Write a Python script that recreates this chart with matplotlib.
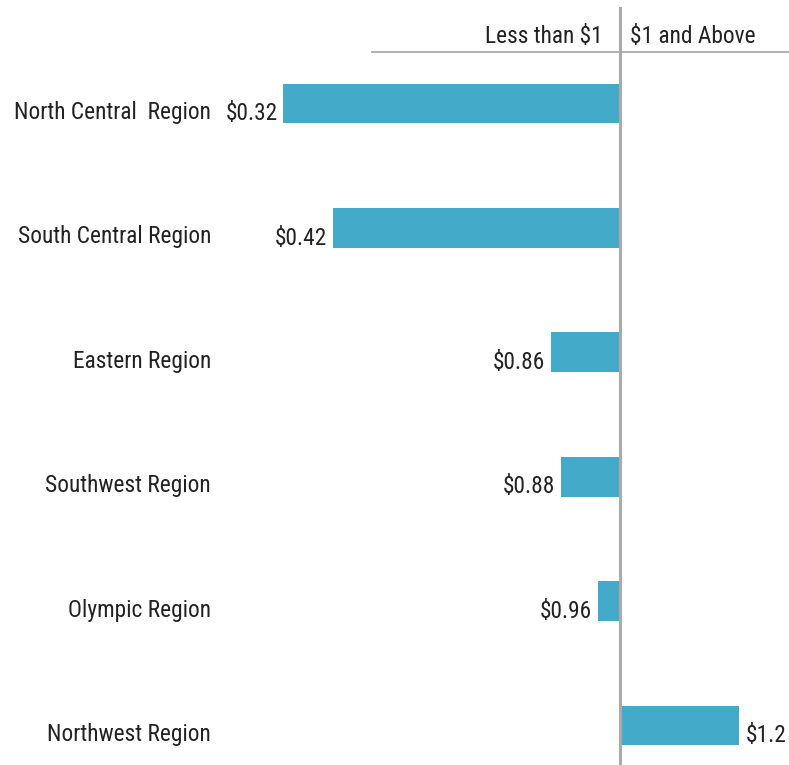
import matplotlib.pyplot as plt

regions = ["North Central  Region", "South Central Region", "Eastern Region",
           "Southwest Region", "Olympic Region", "Northwest Region"]
values = [0.32, 0.42, 0.86, 0.88, 0.955, 1.24]
labels = ["$0.32", "$0.42", "$0.86", "$0.88", "$0.96", "$1.2"]
baseline = 1.0

plt.rcParams['font.family'] = ['Roboto Condensed', 'Liberation Sans', 'DejaVu Sans']
text_color = '#222222'
bar_color = '#43abc9'
line_color = '#aaaaaa'
fs = 16.8

fig = plt.figure(figsize=(7.89, 7.65), dpi=100)
ax = fig.add_axes([220 / 789, 0, 569 / 789, 1])

pos = list(range(len(regions)))
widths = [v - baseline for v in values]
ax.barh(pos, widths, left=baseline, height=0.32, color=bar_color)

# category names, left of the plot area
for p, name in zip(pos, regions):
    ax.text(0.174, p + 0.125, name, ha='right', va='baseline', fontsize=fs,
            color=text_color, clip_on=False)

# value labels at the outer end of each bar
for p, v, lab in zip(pos, values, labels):
    if v < baseline:
        ax.text(v - 0.012, p + 0.135, lab, ha='right', va='baseline', fontsize=fs, color=text_color)
    else:
        ax.text(v + 0.014, p + 0.135, lab, ha='left', va='baseline', fontsize=fs, color=text_color)

ax.set_xlim(0.192, 1.341)
ax.set_ylim(5.318, -0.832)

# divider and header
ax.plot([baseline, baseline], [-0.77, 5.318], color=line_color, lw=2.2, clip_on=False)
ax.plot([0.499, 1.341], [-0.41, -0.41], color=line_color, lw=1.3, clip_on=False)
ax.text(0.964, -0.486, "Less than $1", ha='right', va='baseline', fontsize=fs, color=text_color)
ax.text(1.02, -0.486, "$1 and Above", ha='left', va='baseline', fontsize=fs, color=text_color)

ax.set_xticks([])
ax.set_yticks([])
for s in ax.spines.values():
    s.set_visible(False)

fig.savefig('out.png', dpi=100)
